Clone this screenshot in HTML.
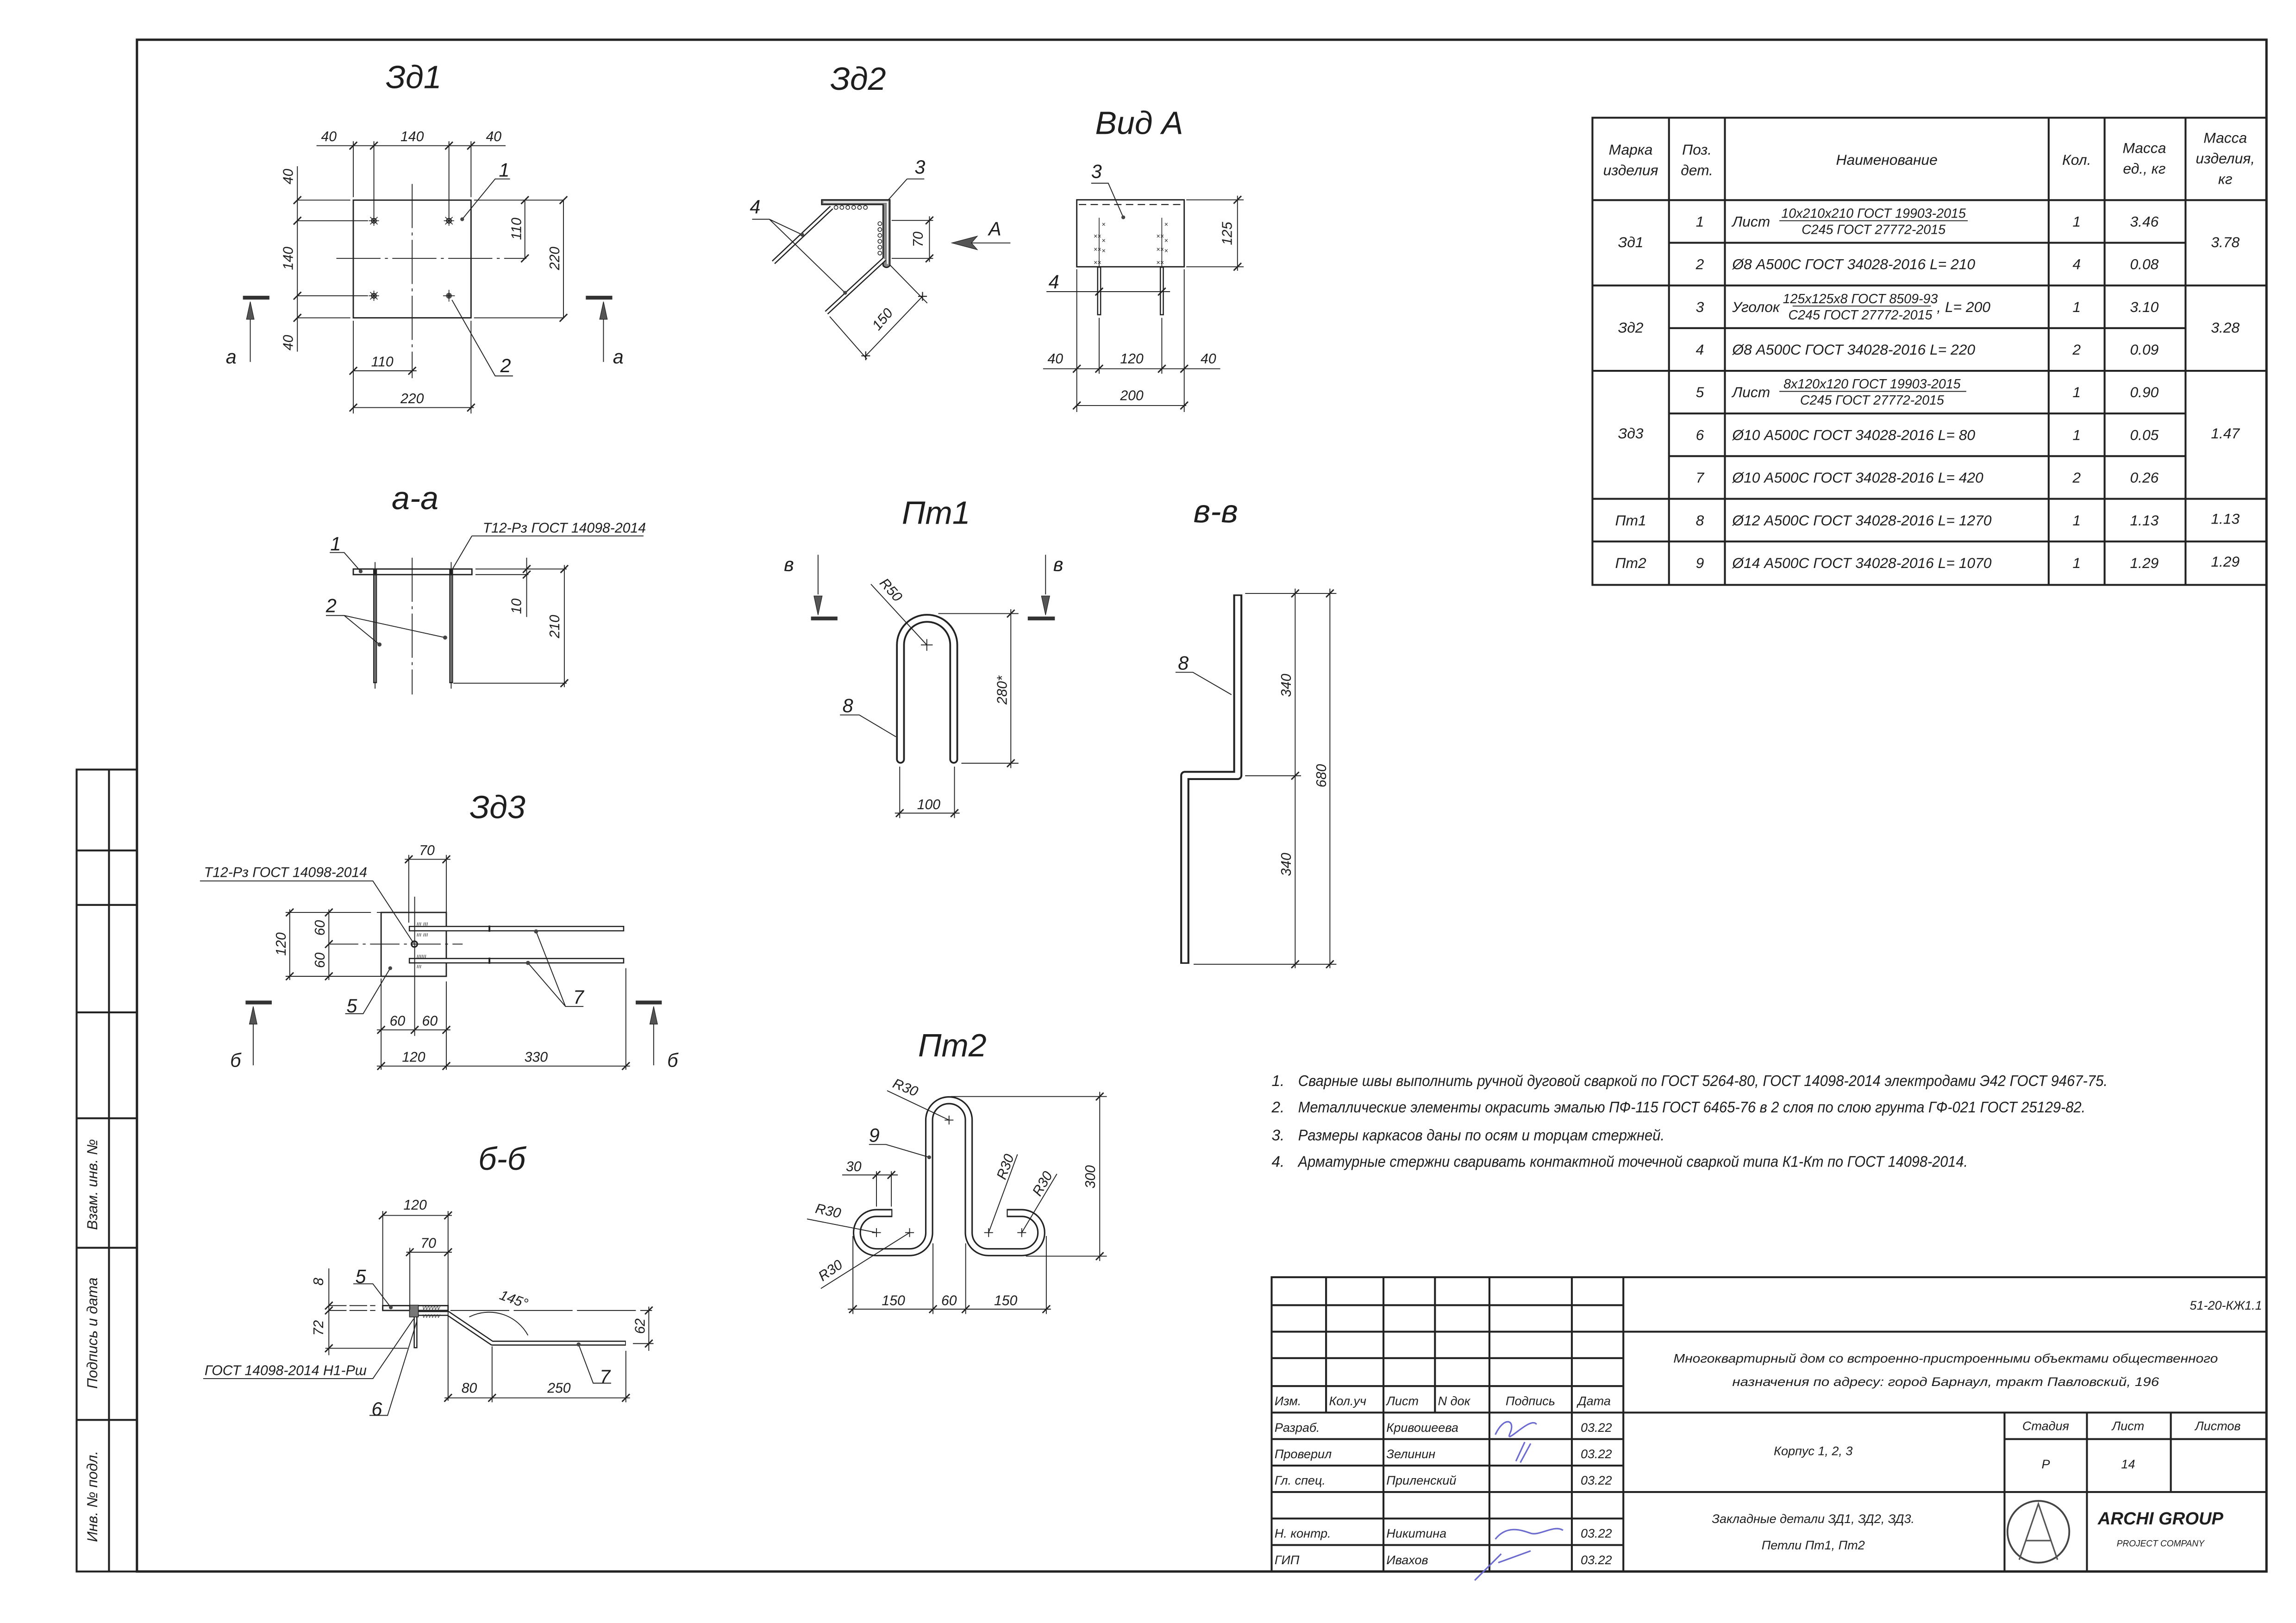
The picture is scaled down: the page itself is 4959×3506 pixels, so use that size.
<!DOCTYPE html>
<html><head><meta charset="utf-8">
<style>
html,body{margin:0;padding:0;background:#fff}
svg{display:block}
text{font-family:"Liberation Sans Narrow","Liberation Sans","DejaVu Sans",sans-serif;font-style:italic;fill:#1e1e1e}
.th{stroke:#222;stroke-width:0.6;fill:none}
.tm{stroke:#222;stroke-width:0.9;fill:none}
.tk{stroke:#222;stroke-width:1.3;fill:none}
.fr{stroke:#222;stroke-width:1.6;fill:none}
.d{font-size:9.5px}
.n{font-size:13px}
.tt{font-size:22px}
.tb{font-size:10px}
.g{fill:#555}
</style></head><body>
<svg width="4959" height="3506" viewBox="0 0 1560 1103" xmlns="http://www.w3.org/2000/svg">
<defs>
<path id="t" d="M-2.6,2.6 L2.6,-2.6" stroke="#222" stroke-width="0.9"/>
<g id="star"><circle r="1.6" fill="#fff" stroke="#222" stroke-width="0.7"/><path d="M0,-3.5V3.5M-3.5,0H3.5M-2.5,-2.5L2.5,2.5M-2.5,2.5L2.5,-2.5" stroke="#222" stroke-width="0.5"/></g>
<path id="arU" d="M0,0 L-2.6,12 L2.6,12Z" fill="#555" stroke="#222" stroke-width="0.4"/>
</defs>
<rect width="1560" height="1103" fill="#fff"/>

<!-- frame -->
<rect x="93" y="27" width="1447" height="1041" class="fr"/>
<!-- left strip -->
<g class="tk">
<rect x="52" y="523" width="41" height="545"/>
<path d="M74,523V1068M52,578H93M52,615H93M52,688H93M52,760H93M52,848H93M52,965H93"/>
</g>
<text class="tb" transform="translate(66,805) rotate(-90)" text-anchor="middle">Взам. инв. №</text>
<text class="tb" transform="translate(66,906) rotate(-90)" text-anchor="middle">Подпись и дата</text>
<text class="tb" transform="translate(66,1017) rotate(-90)" text-anchor="middle">Инв. № подл.</text>

<!-- ============ Зд1 ============ -->
<text class="tt" x="281" y="60" text-anchor="middle">Зд1</text>
<rect x="240" y="136" width="80" height="80" class="tm"/>
<g class="th">
<path d="M215,99H343.5M240,96V134M254,96V148M305,96V148M320,96V134"/>
<path d="M202,113V239M202,136H238M322,136H383M202,150H250M202,201H250M202,216H238M322,216H383"/>
<path d="M356.6,136V175.6M382.8,136V216"/>
<path d="M280,125V257" stroke-dasharray="30,3,2,3"/>
<path d="M228.5,175.6H357.6" stroke-dasharray="30,3,2,3"/>
<path d="M240,218V281M320,218V281M240,252H283M240,277H322"/>
<path d="M314,149L336.4,121.6H346.5M307,203.8L336.4,255.5H348.5"/>
</g>
<use href="#t" x="240" y="99"/><use href="#t" x="254" y="99"/><use href="#t" x="305" y="99"/><use href="#t" x="320" y="99"/>
<use href="#t" x="202" y="136"/><use href="#t" x="202" y="150"/><use href="#t" x="202" y="201"/><use href="#t" x="202" y="216"/>
<use href="#t" x="356.6" y="136"/><use href="#t" x="356.6" y="175.6"/><use href="#t" x="382.8" y="136"/><use href="#t" x="382.8" y="216"/>
<use href="#t" x="240" y="252"/><use href="#t" x="280" y="252"/><use href="#t" x="240" y="277"/><use href="#t" x="320" y="277"/>
<use href="#star" x="254" y="150"/><use href="#star" x="305" y="150"/><use href="#star" x="254" y="201"/>
<circle cx="305" cy="201" r="2" fill="#555"/><path d="M305,197V205M301,201H309" stroke="#222" stroke-width="0.5"/>
<circle cx="314" cy="149" r="1.3" fill="#444"/>
<text class="d" x="223.4" y="96" text-anchor="middle">40</text>
<text class="d" x="280" y="96" text-anchor="middle">140</text>
<text class="d" x="335.4" y="96" text-anchor="middle">40</text>
<text class="d" transform="translate(199,120) rotate(-90)" text-anchor="middle">40</text>
<text class="d" transform="translate(199,175.6) rotate(-90)" text-anchor="middle">140</text>
<text class="d" transform="translate(199,232.9) rotate(-90)" text-anchor="middle">40</text>
<text class="d" transform="translate(354,155.5) rotate(-90)" text-anchor="middle">110</text>
<text class="d" transform="translate(380,175.6) rotate(-90)" text-anchor="middle">220</text>
<text class="d" x="259.7" y="249" text-anchor="middle">110</text>
<text class="d" x="280" y="274" text-anchor="middle">220</text>
<text class="n" x="342.5" y="120" text-anchor="middle">1</text>
<text class="n" x="343.5" y="253" text-anchor="middle">2</text>
<rect x="165" y="201" width="18" height="2.6" fill="#333"/><path d="M170,246V215" class="th"/><use href="#arU" x="170" y="205"/>
<rect x="398" y="201" width="18" height="2.6" fill="#333"/><path d="M410,246V215" class="th"/><use href="#arU" x="410" y="205"/>
<text class="n" x="157" y="247" text-anchor="middle">а</text>
<text class="n" x="420" y="247" text-anchor="middle">а</text>

<!-- ============ Зд2 ============ -->
<text class="tt" x="583" y="61" text-anchor="middle">Зд2</text>
<path d="M558.3,135.8H604.6V180.5Q602.3,183 600,180.5V139H558.3Z" fill="#888" stroke="#222" stroke-width="0.9"/>
<path d="M559.5,137.3H603V179.5" stroke="#fff" stroke-width="0.9" fill="none"/>
<g fill="#fff" stroke="#222" stroke-width="0.5">
<circle cx="568" cy="141" r="1.3"/><circle cx="572" cy="141" r="1.3"/><circle cx="576" cy="141" r="1.3"/><circle cx="580" cy="141" r="1.3"/><circle cx="584" cy="141" r="1.3"/><circle cx="588" cy="141" r="1.3"/>
<circle cx="597.8" cy="152" r="1.3"/><circle cx="597.8" cy="156" r="1.3"/><circle cx="597.8" cy="160" r="1.3"/><circle cx="597.8" cy="164" r="1.3"/><circle cx="597.8" cy="168" r="1.3"/><circle cx="597.8" cy="172" r="1.3"/>
</g>
<g fill="none" stroke-linecap="butt">
<path d="M565,141L525.5,178.3M601,176L561.5,212.5" stroke="#222" stroke-width="3.2"/>
<path d="M565,141L525.5,178.3M601,176L561.5,212.5" stroke="#fff" stroke-width="1.6"/>
</g>
<g class="th">
<path d="M511,149H522.7L545,159.5M522.7,149L574.2,199"/>
<path d="M616.3,121.6H628M616.3,121.6L603.4,136"/>
<path d="M605.8,149.8H634M605.8,175.6H634M631.5,147V178"/>
<path d="M604.6,180L630,206M563.7,215.1L589,244M626.8,201.4L588.2,241.8"/>
<path d="M686.5,165.1H660"/>
</g>
<path d="M646.7,165.1L664,160.5L660,165.1L664,169.7Z" fill="#555" stroke="#222" stroke-width="0.4"/>
<circle cx="545" cy="159.5" r="1.3" fill="#444"/><circle cx="574.2" cy="199" r="1.3" fill="#444"/>
<use href="#t" x="631.5" y="149.8"/><use href="#t" x="631.5" y="175.6"/>
<path d="M623.8,201.4h6M626.8,198.4v6M585.2,241.8h6M588.2,238.8v6" stroke="#222" stroke-width="0.7"/>
<text class="n" x="513" y="145" text-anchor="middle">4</text>
<text class="n" x="625" y="118" text-anchor="middle">3</text>
<text class="d" transform="translate(627,162.7) rotate(-90)" text-anchor="middle">70</text>
<text class="d" transform="translate(602,219) rotate(-50)" text-anchor="middle">150</text>
<text class="n" x="676" y="160" text-anchor="middle">А</text>

<!-- Вид А -->
<text class="tt" x="774" y="91" text-anchor="middle">Вид А</text>
<rect x="731.6" y="135.8" width="73" height="45.5" class="tm"/>
<path d="M733,139H803" stroke="#222" stroke-width="0.7" stroke-dasharray="5,3"/>
<g fill="none">
<path d="M746.8,181.3V214.3M789.4,181.3V214.3" stroke="#222" stroke-width="2.8"/>
<path d="M746.8,182V213.5M789.4,182V213.5" stroke="#fff" stroke-width="1.2"/>
<path d="M746.8,148V181M789.4,148V181" stroke="#222" stroke-width="0.5"/>
</g>
<g font-size="4.5" font-style="normal">
<text x="743" y="162">××</text><text x="743" y="171">××</text><text x="743" y="180">××</text>
<text x="748.5" y="154">×</text><text x="748.5" y="165">×</text><text x="748.5" y="172">×</text>
<text x="785.6" y="162">××</text><text x="785.6" y="171">××</text><text x="785.6" y="180">××</text>
<text x="791" y="154">×</text><text x="791" y="165">×</text><text x="791" y="172">×</text>
</g>
<g class="th">
<path d="M763.2,147.7L753,124.5H741.4"/>
<path d="M806,135.8H845M806,181.3H845M840.8,133V184"/>
<path d="M711,198.2H795"/>
<path d="M731.6,183V280M804.6,183V280M746.8,216V254M789.4,216V254"/>
<path d="M708.7,250.6H829.1M731.6,275.6H806"/>
</g>
<circle cx="763.2" cy="147.7" r="1.3" fill="#444"/>
<use href="#t" x="840.8" y="135.8"/><use href="#t" x="840.8" y="181.3"/>
<use href="#t" x="746.8" y="198.2"/><use href="#t" x="789.4" y="198.2"/>
<use href="#t" x="731.6" y="250.6"/><use href="#t" x="746.8" y="250.6"/><use href="#t" x="789.4" y="250.6"/><use href="#t" x="804.6" y="250.6"/>
<use href="#t" x="731.6" y="275.6"/><use href="#t" x="804.6" y="275.6"/>
<text class="n" x="745" y="121" text-anchor="middle">3</text>
<text class="n" x="716" y="196" text-anchor="middle">4</text>
<text class="d" transform="translate(837,158.7) rotate(-90)" text-anchor="middle">125</text>
<text class="d" x="717" y="247" text-anchor="middle">40</text>
<text class="d" x="769" y="247" text-anchor="middle">120</text>
<text class="d" x="821" y="247" text-anchor="middle">40</text>
<text class="d" x="769" y="272" text-anchor="middle">200</text>

<!-- ============ а-а ============ -->
<text class="tt" x="282" y="346" text-anchor="middle">а-а</text>
<rect x="240" y="386.7" width="80.6" height="3.8" class="tm"/>
<g fill="none">
<path d="M254.8,386.7V464.3M306.5,386.7V464.3" stroke="#222" stroke-width="2.6"/>
<path d="M254.8,391V463.5M306.5,391V463.5" stroke="#fff" stroke-width="1.1"/>
</g>
<g class="th">
<path d="M254.8,382V468M306.5,382V468"/>
<path d="M280,379V472" stroke-dasharray="30,3,2,3"/>
<path d="M323,386.7H385M323,390.5H359M357.8,379V419.3M308,464.3H385M383.4,384V467"/>
<path d="M245,388.3L233.8,375.5H224"/>
<path d="M320.6,364.2H437.2M320.6,364.2L307.4,386.7"/>
<path d="M221.4,418.3H233.8L257.8,438M233.8,418.3L302.4,433.3"/>
</g>
<circle cx="245" cy="388.3" r="1.3" fill="#444"/><circle cx="257.8" cy="438" r="1.4" fill="#444"/><circle cx="302.4" cy="433.3" r="1.4" fill="#444"/>
<use href="#t" x="357.8" y="386.7"/><use href="#t" x="357.8" y="390.5"/><use href="#t" x="383.4" y="386.7"/><use href="#t" x="383.4" y="464.3"/>
<text class="n" x="228" y="374" text-anchor="middle">1</text>
<text class="n" x="225" y="416" text-anchor="middle">2</text>
<text class="d" transform="translate(354,412) rotate(-90)" text-anchor="middle">10</text>
<text class="d" transform="translate(380,425.8) rotate(-90)" text-anchor="middle">210</text>
<text class="d" x="383.4" y="362" text-anchor="middle">Т12-Рз ГОСТ 14098-2014</text>

<!-- ============ Пт1 ============ -->
<text class="tt" x="636" y="356" text-anchor="middle">Пт1</text>
<g fill="none" stroke-linecap="round">
<path d="M611.8,516V438.3A18.1,18.1 0 0 1 648,438.3V516" stroke="#222" stroke-width="6"/>
<path d="M611.8,516V438.3A18.1,18.1 0 0 1 648,438.3V516" stroke="#fff" stroke-width="3.6"/>
</g>
<g class="th">
<path d="M625.7,438.3h8M629.7,434.3v8"/>
<path d="M591.7,397L629.7,438.3"/>
<path d="M637.5,417H692M653.2,518.7H692M686.8,414V522"/>
<path d="M611.3,521V556M648.5,521V556M608,552.6H652"/>
<path d="M608.7,500.7L583.8,485.9H570.7"/>
<path d="M555.8,377V404M710.4,377V404"/>
</g>
<use href="#t" x="686.8" y="417"/><use href="#t" x="686.8" y="518.7"/><use href="#t" x="611.3" y="552.6"/><use href="#t" x="648.5" y="552.6"/>
<path d="M555.8,418L553,405H558.6Z" fill="#555" stroke="#222" stroke-width="0.4"/>
<path d="M710.4,418L707.6,405H713.2Z" fill="#555" stroke="#222" stroke-width="0.4"/>
<rect x="551" y="419" width="18" height="2.6" fill="#333"/><rect x="698.3" y="419" width="18.4" height="2.6" fill="#333"/>
<text class="n" x="536" y="388" text-anchor="middle">в</text>
<text class="n" x="719" y="388" text-anchor="middle">в</text>
<text class="d" transform="translate(603,403) rotate(48)" text-anchor="middle">R50</text>
<text class="d" transform="translate(684,469) rotate(-90)" text-anchor="middle">280*</text>
<text class="d" x="631" y="550" text-anchor="middle">100</text>
<text class="n" x="576" y="484" text-anchor="middle">8</text>

<!-- ============ в-в ============ -->
<text class="tt" x="826" y="355" text-anchor="middle">в-в</text>
<g fill="none" stroke-linejoin="round">
<path d="M841,404V527H805V655" stroke="#222" stroke-width="6.2"/>
<path d="M841,405V527H805V654" stroke="#fff" stroke-width="3.6"/>
</g>
<g class="th">
<path d="M846,403.3H908M846,527.2H884M811,655.3H908M880,400V658M903.6,400V658"/>
<path d="M836.7,472.1L810.5,456.9H798.7"/>
</g>
<use href="#t" x="880" y="403.3"/><use href="#t" x="880" y="527.2"/><use href="#t" x="880" y="655.3"/>
<use href="#t" x="903.6" y="403.3"/><use href="#t" x="903.6" y="655.3"/>
<text class="d" transform="translate(877,465.8) rotate(-90)" text-anchor="middle">340</text>
<text class="d" transform="translate(877,587.5) rotate(-90)" text-anchor="middle">340</text>
<text class="d" transform="translate(901,527.2) rotate(-90)" text-anchor="middle">680</text>
<text class="n" x="804" y="455" text-anchor="middle">8</text>

<!-- ============ Зд3 ============ -->
<text class="tt" x="338" y="556" text-anchor="middle">Зд3</text>
<rect x="258.9" y="620.1" width="44.3" height="43.4" class="tm"/>
<g fill="none">
<path d="M277.7,631.1H424.1M277.7,652.9H424.1" stroke="#222" stroke-width="3.8"/>
<path d="M278.5,631.1H423.3M278.5,652.9H423.3" stroke="#fff" stroke-width="2.2"/>
<path d="M332.5,629V633.2M332.5,650.8V655" stroke="#222" stroke-width="1.2"/>
</g>
<g font-size="4" font-style="normal"><text x="283" y="629">ııı ııı</text><text x="283" y="636.5">ııı ııı</text><text x="283" y="651">ıııııı</text><text x="283" y="658">ııı</text></g>
<circle cx="281.5" cy="641.6" r="2" fill="#fff" stroke="#222" stroke-width="1"/>
<g class="th">
<path d="M281.7,609.4V704"/>
<path d="M223.4,641.6H314.3" stroke-dasharray="20,3,2,3"/>
<path d="M194,620.1H252M256,620.1H303.2M194,663.5H303.2M196.8,618V666M223.4,618V666"/>
<path d="M277.7,581V627M303.2,581V620M275,584H306"/>
<path d="M135.8,598.7H253.3L281,641"/>
<path d="M265.1,658L246.7,688.9H234.5"/>
<path d="M364.2,633L384.2,684H396.4M358.7,654.4L384.2,684"/>
<path d="M258.9,665V727M303.2,667V727M425.2,658V727M256,699.9H306M256,724.5H428"/>
</g>
<circle cx="265.1" cy="658" r="1.3" fill="#444"/><circle cx="364.2" cy="633" r="1.4" fill="#444"/><circle cx="358.7" cy="654.4" r="1.4" fill="#444"/>
<use href="#t" x="196.8" y="620.1"/><use href="#t" x="196.8" y="663.5"/>
<use href="#t" x="223.4" y="620.1"/><use href="#t" x="223.4" y="641.6"/><use href="#t" x="223.4" y="663.5"/>
<use href="#t" x="277.7" y="584"/><use href="#t" x="303.2" y="584"/>
<use href="#t" x="258.9" y="699.9"/><use href="#t" x="281.7" y="699.9"/><use href="#t" x="303.2" y="699.9"/>
<use href="#t" x="258.9" y="724.5"/><use href="#t" x="303.2" y="724.5"/><use href="#t" x="425.2" y="724.5"/>
<text class="d" x="290" y="581" text-anchor="middle">70</text>
<text class="d" x="194" y="596" text-anchor="middle">Т12-Рз ГОСТ 14098-2014</text>
<text class="d" transform="translate(194,641.6) rotate(-90)" text-anchor="middle">120</text>
<text class="d" transform="translate(220.5,630.6) rotate(-90)" text-anchor="middle">60</text>
<text class="d" transform="translate(220.5,652.6) rotate(-90)" text-anchor="middle">60</text>
<text class="d" x="270" y="697" text-anchor="middle">60</text>
<text class="d" x="292" y="697" text-anchor="middle">60</text>
<text class="d" x="281" y="721.5" text-anchor="middle">120</text>
<text class="d" x="364.2" y="721.5" text-anchor="middle">330</text>
<text class="n" x="239" y="688" text-anchor="middle">5</text>
<text class="n" x="393" y="682" text-anchor="middle">7</text>
<rect x="166.8" y="680" width="17.8" height="2.6" fill="#333"/><path d="M172,724V695" class="th"/><use href="#arU" x="172" y="684"/>
<rect x="431.9" y="680" width="17.7" height="2.6" fill="#333"/><path d="M444.1,724V695" class="th"/><use href="#arU" x="444.1" y="684"/>
<text class="n" x="160" y="725" text-anchor="middle">б</text>
<text class="n" x="457" y="725" text-anchor="middle">б</text>

<!-- ============ б-б ============ -->
<text class="tt" x="341" y="795" text-anchor="middle">б-б</text>
<rect x="260" y="887.3" width="44.4" height="3.3" class="tm"/>
<g fill="none">
<path d="M279,892.6H304.4L334.3,912.8H425.2" stroke="#222" stroke-width="3.4" stroke-linejoin="round"/>
<path d="M279.5,892.6H304.4L334.3,912.8H424.7" stroke="#fff" stroke-width="1.8" stroke-linejoin="round"/>
<path d="M282.3,890.6V916.3" stroke="#222" stroke-width="2.6"/>
<path d="M282.3,891.5V915.5" stroke="#fff" stroke-width="1"/>
</g>
<rect x="278.2" y="887" width="6" height="8" fill="#777" stroke="#222" stroke-width="0.5"/>
<g font-size="4" font-style="normal"><text x="287" y="890">vvvvvv</text><text x="287" y="895.5">vvvvvv</text></g>
<g class="th">
<path d="M223.4,887.3H255M223.4,890.6H255" stroke-dasharray="12,2"/>
<path d="M306,890.6H443" stroke-dasharray="40,3"/>
<path d="M223.4,862V921M221,916.3H277"/>
<path d="M440.8,888V918M430,913.1H444"/>
<path d="M260,823V887M278.4,848V890M304.4,823V952M260,826H307M276,851H307"/>
<path d="M334.3,915V953M425.2,918V953M302,950H428"/>
<path d="M318.8,895A30,30 0 0 1 358.7,907.5"/>
<path d="M265.5,888.5L253.3,872.5H240"/>
<path d="M138,936.9H253.3L281,896.3"/>
<path d="M283.3,897.5L263.3,961.9H251"/>
<path d="M393.1,913.7L403,940H415.2"/>
</g>
<circle cx="265.5" cy="888.5" r="1.3" fill="#444"/><circle cx="393.1" cy="913.7" r="1.4" fill="#444"/>
<use href="#t" x="260" y="826"/><use href="#t" x="304.4" y="826"/><use href="#t" x="278.4" y="851"/><use href="#t" x="304.4" y="851"/>
<use href="#t" x="223.4" y="887.3"/><use href="#t" x="223.4" y="890.6"/><use href="#t" x="223.4" y="916.3"/>
<use href="#t" x="440.8" y="890.6"/><use href="#t" x="440.8" y="913.1"/>
<use href="#t" x="304.4" y="950"/><use href="#t" x="334.3" y="950"/><use href="#t" x="425.2" y="950"/>
<text class="d" x="282" y="822" text-anchor="middle">120</text>
<text class="d" x="291" y="848" text-anchor="middle">70</text>
<text class="d" transform="translate(219.5,871) rotate(-90)" text-anchor="middle">8</text>
<text class="d" transform="translate(219.5,902.5) rotate(-90)" text-anchor="middle">72</text>
<text class="d" transform="translate(438,901.3) rotate(-90)" text-anchor="middle">62</text>
<text class="d" x="318.8" y="946.5" text-anchor="middle">80</text>
<text class="d" x="379.8" y="946.5" text-anchor="middle">250</text>
<text class="d" transform="translate(348,886) rotate(20)" text-anchor="middle">145°</text>
<text class="d" x="194" y="934.5" text-anchor="middle">ГОСТ 14098-2014 Н1-Рш</text>
<text class="n" x="245" y="872" text-anchor="middle">5</text>
<text class="n" x="256" y="962" text-anchor="middle">6</text>
<text class="n" x="411" y="940" text-anchor="middle">7</text>

<!-- ============ Пт2 ============ -->
<text class="tt" x="647" y="718" text-anchor="middle">Пт2</text>
<g fill="none">
<path d="M606.3,824.4L595.5,824.4A13.3,13.3 0 0 0 595.5,851L618,851A13.3,13.3 0 0 0 631.3,837.7L631.3,761.2A13.45,13.45 0 0 1 658.2,761.2L658.2,837.7A13.3,13.3 0 0 0 671.5,851L694.2,851A13.3,13.3 0 0 0 694.2,824.4L684,824.4" stroke="#222" stroke-width="5.6"/>
<path d="M605.6,824.4L595.5,824.4A13.3,13.3 0 0 0 595.5,851L618,851A13.3,13.3 0 0 0 631.3,837.7L631.3,761.2A13.45,13.45 0 0 1 658.2,761.2L658.2,837.7A13.3,13.3 0 0 0 671.5,851L694.2,851A13.3,13.3 0 0 0 694.2,824.4L684.7,824.4" stroke="#fff" stroke-width="3.6"/>
</g>
<g class="th">
<path d="M641.8,761.2h6M644.8,758.2v6M592.5,837.7h6M595.5,834.7v6M615,837.7h6M618,834.7v6M668.7,837.7h6M671.7,834.7v6M691.2,837.7h6M694.2,834.7v6"/>
<path d="M646,745.2H752M697,853.7H752M747.2,742V857"/>
<path d="M579.5,840V893M633.9,845V893M656.1,845V893M710.9,840V893M576,889.7H714"/>
<path d="M572.2,798.5H610M595.5,796V820M605.6,796V820"/>
<path d="M631.3,786.5L602,777.8H590.4"/>
<path d="M602.7,741.2L644.8,761.2M548.3,828.4L595.5,837.7M557.7,875.7L618,837.7M691.3,784.5L671.7,837.7M718.1,797.8L694.2,837.7"/>
</g>
<circle cx="631.3" cy="786.5" r="1.3" fill="#444"/>
<use href="#t" x="747.2" y="745.2"/><use href="#t" x="747.2" y="853.7"/>
<use href="#t" x="579.5" y="889.7"/><use href="#t" x="633.9" y="889.7"/><use href="#t" x="656.1" y="889.7"/><use href="#t" x="710.9" y="889.7"/>
<use href="#t" x="595.5" y="798.5"/><use href="#t" x="605.6" y="798.5"/>
<text class="d" transform="translate(744,799.8) rotate(-90)" text-anchor="middle">300</text>
<text class="d" x="607" y="887" text-anchor="middle">150</text>
<text class="d" x="644.8" y="887" text-anchor="middle">60</text>
<text class="d" x="683.3" y="887" text-anchor="middle">150</text>
<text class="d" x="580" y="796" text-anchor="middle">30</text>
<text class="n" x="594" y="776" text-anchor="middle">9</text>
<text class="d" transform="translate(614,742) rotate(22)" text-anchor="middle">R30</text>
<text class="d" transform="translate(562,826) rotate(12)" text-anchor="middle">R30</text>
<text class="d" transform="translate(566,866) rotate(-35)" text-anchor="middle">R30</text>
<text class="d" transform="translate(686,794) rotate(-70)" text-anchor="middle">R30</text>
<text class="d" transform="translate(711,806) rotate(-60)" text-anchor="middle">R30</text>

<!-- ============ Notes ============ -->
<g font-size="10.5px">
<text x="864" y="738">1.</text><text x="882" y="738" textLength="550" lengthAdjust="spacingAndGlyphs">Сварные швы выполнить ручной дуговой сваркой по ГОСТ 5264-80, ГОСТ 14098-2014 электродами Э42 ГОСТ 9467-75.</text>
<text x="864" y="756">2.</text><text x="882" y="756" textLength="535" lengthAdjust="spacingAndGlyphs">Металлические элементы окрасить эмалью ПФ-115 ГОСТ 6465-76 в 2 слоя по слою грунта ГФ-021 ГОСТ 25129-82.</text>
<text x="864" y="775">3.</text><text x="882" y="775" textLength="249" lengthAdjust="spacingAndGlyphs">Размеры каркасов даны по осям и торцам стержней.</text>
<text x="864" y="793">4.</text><text x="882" y="793" textLength="455" lengthAdjust="spacingAndGlyphs">Арматурные стержни сваривать контактной точечной сваркой типа К1-Кт по ГОСТ 14098-2014.</text>
</g>

<!-- ============ Spec table ============ -->
<g class="tk">
<rect x="1082" y="80" width="458" height="317.5"/>
<path d="M1134,80V397.5M1172,80V397.5M1392,80V397.5M1430,80V397.5M1485,80V397.5"/>
<path d="M1082,136H1540M1082,194H1540M1082,252H1540M1082,339H1540M1082,368H1540"/>
<path d="M1134,165H1485M1134,223H1485M1134,281H1485M1134,310H1485"/>
</g>
<g class="tb" text-anchor="middle">
<text x="1108" y="105">Марка</text><text x="1108" y="119">изделия</text>
<text x="1153" y="105">Поз.</text><text x="1153" y="119">дет.</text>
<text x="1282" y="112">Наименование</text>
<text x="1411" y="112">Кол.</text>
<text x="1457" y="104">Масса</text><text x="1457" y="118">ед., кг</text>
<text x="1512" y="97">Масса</text><text x="1512" y="111">изделия,</text><text x="1512" y="125">кг</text>
<text x="1108" y="168">Зд1</text><text x="1108" y="226">Зд2</text><text x="1108" y="298">Зд3</text><text x="1108" y="357">Пт1</text><text x="1108" y="386">Пт2</text>
<text x="1512" y="168">3.78</text><text x="1512" y="226">3.28</text><text x="1512" y="298">1.47</text><text x="1512" y="356">1.13</text><text x="1512" y="385">1.29</text>
<text x="1155" y="154">1</text><text x="1155" y="183">2</text><text x="1155" y="212">3</text><text x="1155" y="241">4</text><text x="1155" y="270">5</text><text x="1155" y="299">6</text><text x="1155" y="328">7</text><text x="1155" y="357">8</text><text x="1155" y="386">9</text>
<text x="1411" y="154">1</text><text x="1411" y="183">4</text><text x="1411" y="212">1</text><text x="1411" y="241">2</text><text x="1411" y="270">1</text><text x="1411" y="299">1</text><text x="1411" y="328">2</text><text x="1411" y="357">1</text><text x="1411" y="386">1</text>
<text x="1457" y="154">3.46</text><text x="1457" y="183">0.08</text><text x="1457" y="212">3.10</text><text x="1457" y="241">0.09</text><text x="1457" y="270">0.90</text><text x="1457" y="299">0.05</text><text x="1457" y="328">0.26</text><text x="1457" y="357">1.13</text><text x="1457" y="386">1.29</text>
</g>
<g class="tb">
<text x="1177" y="154">Лист</text>
<text x="1273" y="148" font-size="9px" text-anchor="middle">10x210x210 ГОСТ 19903-2015</text><path d="M1209,150H1337" class="th"/>
<text x="1273" y="159" font-size="9px" text-anchor="middle">С245 ГОСТ 27772-2015</text>
<text x="1177" y="183">Ø8 А500С ГОСТ 34028-2016 L= 210</text>
<text x="1177" y="212">Уголок</text>
<text x="1264" y="206" font-size="9px" text-anchor="middle">125x125x8 ГОСТ 8509-93</text><path d="M1218,208H1312" class="th"/>
<text x="1264" y="217" font-size="9px" text-anchor="middle">С245 ГОСТ 27772-2015</text>
<text x="1316" y="212">, L= 200</text>
<text x="1177" y="241">Ø8 А500С ГОСТ 34028-2016 L= 220</text>
<text x="1177" y="270">Лист</text>
<text x="1272" y="264" font-size="9px" text-anchor="middle">8x120x120 ГОСТ 19903-2015</text><path d="M1209,266H1336" class="th"/>
<text x="1272" y="275" font-size="9px" text-anchor="middle">С245 ГОСТ 27772-2015</text>
<text x="1177" y="299">Ø10 А500С ГОСТ 34028-2016 L= 80</text>
<text x="1177" y="328">Ø10 А500С ГОСТ 34028-2016 L= 420</text>
<text x="1177" y="357">Ø12 А500С ГОСТ 34028-2016 L=  1270</text>
<text x="1177" y="386">Ø14 А500С ГОСТ 34028-2016 L=  1070</text>
</g>

<!-- ============ Title block ============ -->
<g class="tk">
<rect x="864" y="868" width="676" height="200"/>
<path d="M901,868V960M975,868V960M940,868V1068M1012,868V1068M1068,868V1068M1103,868V1068"/>
<path d="M864,887H1103M864,905H1103M864,923H1103M864,942H1103M864,960H1540M864,978H1103M864,996H1103M864,1014H1540M864,1032H1103M864,1050H1103"/>
<path d="M1103,905H1540M1362,960V1068M1418,960V1068M1475,960V1014M1362,978H1540"/>
</g>
<g font-size="8.5px" class="g">
<text x="866" y="955">Изм.</text><text x="903" y="955">Кол.уч</text><text x="942" y="955">Лист</text><text x="977" y="955">N док</text><text x="1023" y="955">Подпись</text><text x="1072" y="955">Дата</text>
<text x="866" y="973">Разраб.</text><text x="942" y="973">Кривошеева</text><text x="1074" y="973">03.22</text>
<text x="866" y="991">Проверил</text><text x="942" y="991">Зелинин</text><text x="1074" y="991">03.22</text>
<text x="866" y="1009">Гл. спец.</text><text x="942" y="1009">Приленский</text><text x="1074" y="1009">03.22</text>
<text x="866" y="1045">Н. контр.</text><text x="942" y="1045">Никитина</text><text x="1074" y="1045">03.22</text>
<text x="866" y="1063">ГИП</text><text x="942" y="1063">Ивахов</text><text x="1074" y="1063">03.22</text>
<text x="1537" y="890" text-anchor="end">51-20-КЖ1.1</text>
<text x="1322" y="926" text-anchor="middle" textLength="370" lengthAdjust="spacingAndGlyphs">Многоквартирный дом со встроенно-пристроенными объектами общественного</text>
<text x="1322" y="942" text-anchor="middle" textLength="290" lengthAdjust="spacingAndGlyphs">назначения по адресу: город Барнаул, тракт Павловский, 196</text>
<text x="1232" y="989" text-anchor="middle">Корпус 1, 2, 3</text>
<text x="1390" y="972" text-anchor="middle">Стадия</text><text x="1446" y="972" text-anchor="middle">Лист</text><text x="1507" y="972" text-anchor="middle">Листов</text>
<text x="1390" y="998" text-anchor="middle">Р</text><text x="1446" y="998" text-anchor="middle">14</text>
<text x="1232" y="1035" text-anchor="middle">Закладные детали ЗД1, ЗД2, ЗД3.</text>
<text x="1232" y="1053" text-anchor="middle">Петли Пт1, Пт2</text>
</g>
<circle cx="1385" cy="1041" r="21" fill="none" stroke="#444" stroke-width="1.2"/>
<path d="M1372,1060L1385,1022L1398,1060M1376,1047H1394" fill="none" stroke="#555" stroke-width="1"/>
<text x="1468" y="1036" text-anchor="middle" font-size="12px" font-weight="bold" font-style="normal" fill="#444">ARCHI GROUP</text>
<text x="1468" y="1051" text-anchor="middle" font-size="6px" font-style="normal" fill="#555">PROJECT COMPANY</text>
<g fill="none" stroke="#6a6ad0" stroke-width="1">
<path d="M1016,975C1022,962 1030,965 1026,974S1040,962 1044,968"/>
<path d="M1030,993L1036,980M1033,994L1040,981"/>
<path d="M1016,1046C1024,1036 1034,1040 1040,1042S1056,1036 1062,1040"/>
<path d="M1002,1074L1020,1056M1018,1062L1040,1054"/>
</g>
</svg>
</body></html>
